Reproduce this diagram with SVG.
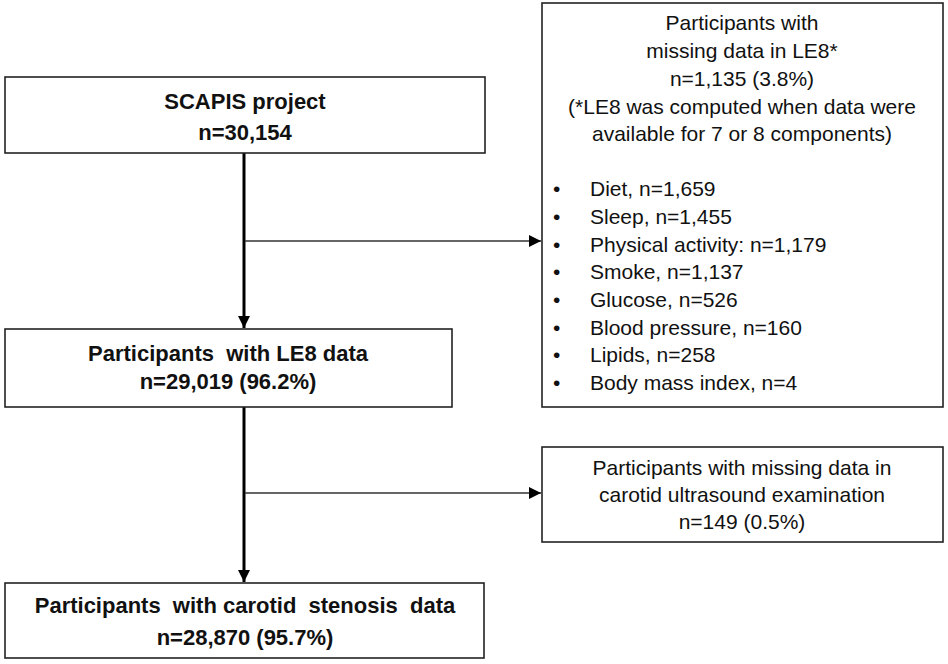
<svg xmlns="http://www.w3.org/2000/svg" width="948" height="664" viewBox="0 0 948 664">
<defs>
<style>
.box{fill:#fff;stroke:#222;stroke-width:1.6}
.b{font-family:"Liberation Sans",Arial,sans-serif;font-weight:bold;font-size:22px;fill:#111;text-anchor:middle}
.t{font-family:"Liberation Sans",Arial,sans-serif;font-size:21px;fill:#111;text-anchor:middle}
.l{font-family:"Liberation Sans",Arial,sans-serif;font-size:21px;fill:#111}
.main{stroke:#000;stroke-width:3;fill:none}
.side{stroke:#333;stroke-width:1.6;fill:none}
</style>
<marker id="ah" viewBox="0 0 10 10" refX="10" refY="5" markerWidth="12" markerHeight="12" markerUnits="userSpaceOnUse" orient="auto">
<path d="M0,0 L10,5 L0,10 Z" fill="#000"/>
</marker>
</defs>
<rect width="948" height="664" fill="#fff"/>
<g id="connectors">
<line class="main" x1="244" y1="153" x2="244" y2="328" marker-end="url(#ah)"/>
<line class="main" x1="244" y1="407" x2="244" y2="582" marker-end="url(#ah)"/>
<line class="side" x1="245" y1="241" x2="541" y2="241" marker-end="url(#ah)"/>
<line class="side" x1="245" y1="493" x2="541" y2="493" marker-end="url(#ah)"/>
</g>
<g id="scapis">
<rect class="box" x="5" y="77" width="480" height="76"/>
<text class="b" x="245" y="109">SCAPIS project</text>
<text class="b" x="245" y="140">n=30,154</text>
</g>
<g id="le8">
<rect class="box" x="5" y="329" width="447" height="78"/>
<text class="b" x="228" y="361" xml:space="preserve">Participants  with LE8 data</text>
<text class="b" x="228" y="389">n=29,019 (96.2%)</text>
</g>
<g id="carotid">
<rect class="box" x="5" y="583" width="479" height="75"/>
<text class="b" x="245" y="613" xml:space="preserve">Participants  with carotid  stenosis  data</text>
<text class="b" x="245" y="645">n=28,870 (95.7%)</text>
</g>
<g id="missing-le8">
<rect class="box" x="542" y="3" width="401" height="404"/>
<text class="t" x="742" y="30">Participants with</text>
<text class="t" x="742" y="58">missing data in LE8*</text>
<text class="t" x="742" y="86">n=1,135 (3.8%)</text>
<text class="t" x="742" y="114">(*LE8 was computed when data were</text>
<text class="t" x="742" y="141">available for 7 or 8 components)</text>
<g class="l">
<text x="553" y="196">•</text><text x="590" y="196">Diet, n=1,659</text>
<text x="553" y="224">•</text><text x="590" y="224">Sleep, n=1,455</text>
<text x="553" y="252">•</text><text x="590" y="252">Physical activity: n=1,179</text>
<text x="553" y="279">•</text><text x="590" y="279">Smoke, n=1,137</text>
<text x="553" y="307">•</text><text x="590" y="307">Glucose, n=526</text>
<text x="553" y="335">•</text><text x="590" y="335">Blood pressure, n=160</text>
<text x="553" y="362">•</text><text x="590" y="362">Lipids, n=258</text>
<text x="553" y="390">•</text><text x="590" y="390">Body mass index, n=4</text>
</g>
</g>
<g id="missing-carotid">
<rect class="box" x="542" y="447" width="401" height="95"/>
<text class="t" x="742" y="475">Participants with missing data in</text>
<text class="t" x="742" y="502">carotid ultrasound examination</text>
<text class="t" x="742" y="529">n=149 (0.5%)</text>
</g>
</svg>
